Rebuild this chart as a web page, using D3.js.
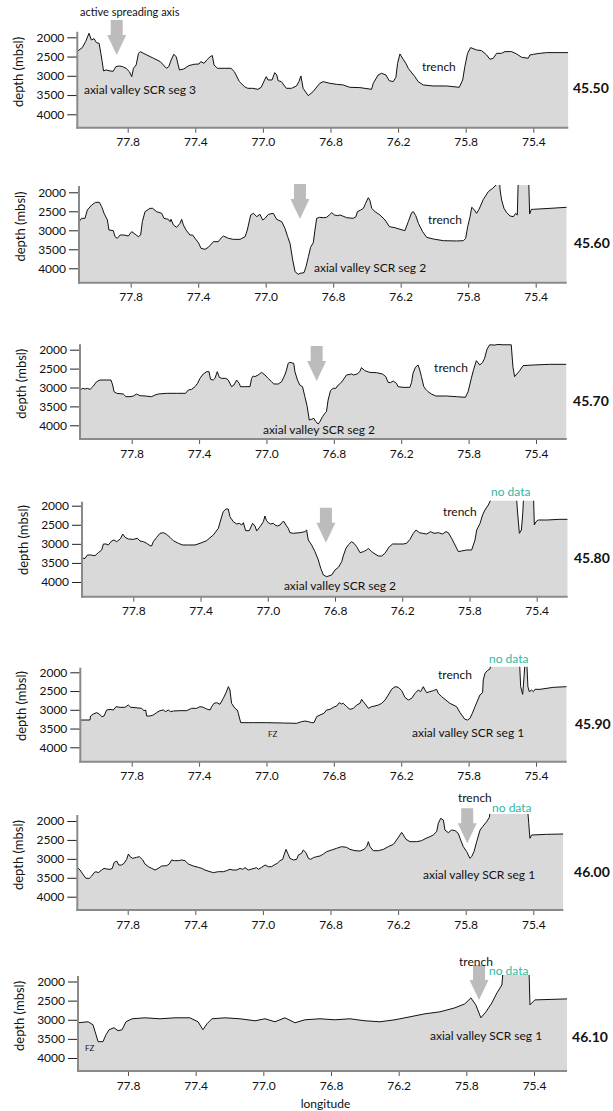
<!DOCTYPE html>
<html><head><meta charset="utf-8">
<script src="https://cdn.jsdelivr.net/npm/d3@7"></script>
<style>
body{margin:0;background:#fff}
svg{display:block}
text{font-family:Lato,"Open Sans",sans-serif;fill:#111}
</style>
</head><body>
<svg id="c" width="613" height="1111"></svg>
<script>
// ---------- tick values & labels ----------
const tickLon = [77.8, 77.4, 77.0, 76.6, 76.2, 75.8, 75.4];
const tickLabels = ["77.8", "77.4", "77.0", "76.8", "76.2", "75.8", "75.4"];
const depthTicks = [2000, 2500, 3000, 3500, 4000];
const latLabels = ["45.50", "45.60", "45.70", "45.80", "45.90", "46.00", "46.10"];

// ---------- profiles (longitude, depth in m below sea level; <1800 = above frame / no data) ----------
const lon4550 = [78.100,78.069,78.049,78.029,78.015,77.999,77.985,77.969,77.959,77.951,77.943,77.929,77.905,77.886,77.870,77.850,77.830,77.810,77.790,77.776,77.766,77.750,77.736,77.726,77.687,77.647,77.607,77.571,77.557,77.543,77.527,77.513,77.501,77.494,77.468,77.438,77.408,77.378,77.368,77.348,77.332,77.312,77.299,77.289,77.269,77.229,77.189,77.169,77.139,77.109,77.090,77.060,77.030,77.010,76.990,76.980,76.970,76.946,76.930,76.918,76.910,76.891,76.861,76.831,76.801,76.787,76.775,76.762,76.732,76.703,76.663,76.643,76.604,76.564,76.525,76.486,76.426,76.357,76.347,76.318,76.298,76.272,76.253,76.229,76.213,76.203,76.189,76.170,76.154,76.140,76.101,76.081,76.051,75.992,75.913,75.838,75.818,75.805,75.789,75.771,75.736,75.706,75.676,75.657,75.637,75.617,75.588,75.568,75.528,75.499,75.469,75.430,75.420,75.400,75.361,75.321,75.242,75.193];
const depth4550 = [2372,2268,2113,1896,2069,2035,2139,2156,2416,2632,2874,2848,2874,2883,2762,2745,2762,2805,2892,3022,2805,2719,2416,2372,2459,2545,2632,2805,2762,2589,2442,2502,2719,2848,2822,2736,2701,2693,2632,2675,2589,2502,2476,2719,2805,2805,2805,2892,3152,3281,3325,3325,3351,3299,3108,3022,3108,3108,2918,2978,3126,3152,3325,3325,3264,3152,3004,3325,3515,3411,3195,3152,3195,3221,3238,3299,3307,3351,3195,2978,2935,2978,3126,3152,3039,2675,2433,2571,2675,2805,3022,3152,3238,3264,3264,3299,3108,2762,2416,2268,2329,2346,2459,2571,2545,2416,2416,2372,2372,2433,2519,2545,2459,2442,2416,2398,2398,2398];

const lon4560 = [78.106,78.091,78.071,78.057,78.031,78.008,77.986,77.972,77.958,77.938,77.929,77.903,77.893,77.879,77.863,77.840,77.814,77.794,77.775,77.755,77.741,77.731,77.715,77.686,77.670,77.646,77.616,77.603,77.577,77.567,77.561,77.547,77.528,77.508,77.498,77.488,77.472,77.449,77.433,77.419,77.399,77.383,77.360,77.340,77.310,77.281,77.271,77.251,77.221,77.192,77.152,77.122,77.109,77.089,77.073,77.053,77.034,77.018,77.004,76.984,76.955,76.935,76.905,76.886,76.870,76.856,76.840,76.826,76.807,76.797,76.773,76.761,76.747,76.734,76.718,76.708,76.698,76.682,76.659,76.639,76.623,76.609,76.593,76.575,76.560,76.544,76.520,76.481,76.465,76.457,76.437,76.421,76.408,76.392,76.382,76.372,76.352,76.323,76.293,76.267,76.234,76.204,76.175,76.155,76.135,76.125,76.111,76.095,76.070,76.046,76.007,75.947,75.868,75.829,75.815,75.803,75.789,75.779,75.766,75.750,75.736,75.710,75.681,75.655,75.635,75.627,75.615,75.611,75.602,75.588,75.572,75.552,75.532,75.519,75.509,75.503,75.442,75.436,75.426,75.414,75.315,75.216];
const depth4560 = [2773,2685,2685,2466,2334,2264,2264,2378,2553,2729,2992,3010,3167,3211,3124,3124,3150,3036,3097,3167,3124,2773,2510,2422,2422,2510,2553,2685,2711,2773,2711,2860,2922,2817,2711,2860,2992,3124,3124,3211,3325,3475,3501,3448,3299,3299,3238,3150,3211,3238,3238,3167,2992,2597,2553,2641,2580,2729,2685,2580,2553,2711,2773,2948,3167,3343,3781,4088,4159,4132,4115,3957,3694,3448,3325,2992,2685,2659,2668,2659,2597,2536,2597,2615,2597,2624,2668,2685,2641,2510,2466,2422,2290,2141,2220,2422,2510,2597,2729,2904,2931,2974,3010,2773,2536,2510,2615,2817,3036,3185,3229,3273,3281,3273,3211,2904,2641,2395,2448,2553,2448,2185,1983,1895,1808,1600,1600,1939,2202,2422,2536,2624,2641,2553,2597,1600,1600,2571,2448,2448,2422,2395];

const lon4570 = [78.107,78.091,78.077,78.063,78.047,78.031,78.008,77.988,77.949,77.923,77.913,77.905,77.889,77.850,77.834,77.810,77.790,77.771,77.751,77.721,77.682,77.662,77.642,77.593,77.533,77.480,77.464,77.444,77.424,77.409,77.395,77.375,77.355,77.341,77.332,77.316,77.306,77.292,77.280,77.266,77.241,77.227,77.207,77.193,77.177,77.162,77.154,77.128,77.098,77.088,77.079,77.069,77.049,77.029,77.009,76.990,76.970,76.956,76.930,76.910,76.891,76.881,76.871,76.861,76.838,76.831,76.816,76.802,76.786,76.772,76.758,76.746,76.733,76.719,76.707,76.693,76.683,76.667,76.654,76.644,76.634,76.620,76.604,76.588,76.574,76.561,76.545,76.525,76.495,76.482,76.462,76.446,76.436,76.416,76.387,76.347,76.311,76.292,76.278,76.264,76.248,76.228,76.219,76.189,76.149,76.139,76.130,76.116,76.100,76.090,76.080,76.066,76.054,76.041,76.021,75.995,75.932,75.873,75.819,75.803,75.784,75.770,75.754,75.734,75.718,75.705,75.691,75.675,75.645,75.626,75.596,75.547,75.537,75.527,75.497,75.477,75.418,75.319,75.220];
const depth4570 = [3066,3022,3040,3022,3049,2978,2846,2802,2802,2802,2934,3110,3154,3172,3243,3243,3225,3172,3216,3225,3243,3199,3172,3154,3154,3154,3066,3049,2978,2890,2758,2643,2581,2581,2784,2802,2758,2581,2731,2758,2758,2802,2978,2934,2802,2890,2978,2978,2978,2758,2696,2713,2669,2599,2669,2758,2846,2907,2907,2846,2669,2537,2361,2334,2361,2581,2802,2934,2978,3243,3507,3860,3842,3816,3904,3966,3904,3772,3684,3640,3331,3084,3022,3022,2934,2890,2802,2669,2643,2669,2643,2581,2475,2555,2599,2608,2643,2713,2863,2872,2828,2890,2978,2996,2996,2872,2625,2466,2405,2537,2713,2978,3049,3110,3172,3225,3225,3243,3260,3110,2758,2519,2290,2405,2343,2228,1990,1870,1878,1862,1870,1870,2449,2713,2555,2422,2405,2387,2387];

const lon4580 = [78.105,78.087,78.073,78.054,78.028,78.008,77.988,77.978,77.962,77.949,77.929,77.915,77.899,77.885,77.875,77.863,77.849,77.829,77.800,77.776,77.760,77.740,77.720,77.701,77.691,77.681,77.661,77.641,77.621,77.602,77.582,77.562,77.532,77.506,77.473,77.433,77.403,77.364,77.324,77.294,77.280,77.265,77.249,77.235,77.225,77.205,77.185,77.169,77.155,77.145,77.132,77.110,77.090,77.076,77.066,77.046,77.026,77.017,77.007,76.997,76.983,76.967,76.957,76.943,76.927,76.911,76.903,76.892,76.878,76.868,76.848,76.808,76.779,76.769,76.759,76.739,76.719,76.699,76.685,76.669,76.650,76.620,76.600,76.580,76.560,76.551,76.535,76.521,76.501,76.487,76.471,76.451,76.431,76.412,76.402,76.382,76.362,76.342,76.322,76.303,76.277,76.257,76.223,76.194,76.174,76.154,76.134,76.118,76.098,76.079,76.055,76.031,76.011,75.985,75.960,75.940,75.926,75.906,75.886,75.866,75.847,75.817,75.787,75.777,75.767,75.757,75.737,75.722,75.708,75.688,75.674,75.668,75.523,75.515,75.503,75.491,75.483,75.476,75.420,75.414,75.404,75.390,75.341,75.262,75.216];
const depth4580 = [3380,3380,3292,3292,3310,3231,3161,3004,3004,3030,2925,2899,2943,2899,2855,2742,2829,2873,2882,2855,2925,2943,2986,3048,3056,2943,2829,2724,2707,2751,2829,2917,2986,3030,3030,3030,2986,2917,2768,2593,2375,2156,2087,2087,2287,2419,2480,2462,2506,2445,2654,2654,2462,2532,2663,2550,2419,2270,2392,2445,2480,2462,2506,2532,2506,2419,2419,2506,2593,2707,2724,2707,2681,2637,2899,3030,3205,3423,3642,3817,3860,3817,3685,3616,3467,3318,3117,3030,2943,2986,3074,3231,3205,3161,3117,3205,3266,3319,3319,3249,3074,3004,3004,3004,2986,2882,2724,2637,2707,2724,2742,2681,2724,2707,2742,2681,2707,2855,3030,3205,3187,3161,3161,3030,2899,2637,2462,2244,2113,1982,1851,1600,1600,2113,2724,2637,2200,1600,1600,2506,2419,2375,2375,2357,2357];

const lon4590 = [78.105,78.077,78.048,78.044,78.028,78.008,77.992,77.978,77.964,77.949,77.929,77.909,77.893,77.870,77.840,77.820,77.806,77.780,77.741,77.727,77.717,77.711,77.691,77.672,77.652,77.632,77.612,77.598,77.583,77.569,77.553,77.513,77.474,77.444,77.414,77.395,77.375,77.355,77.335,77.325,77.312,77.296,77.276,77.256,77.240,77.226,77.217,77.207,77.187,77.173,77.167,77.157,77.153,77.078,76.999,76.900,76.821,76.791,76.771,76.752,76.732,76.718,76.702,76.682,76.659,76.643,76.623,76.603,76.583,76.568,76.554,76.544,76.524,76.504,76.484,76.465,76.445,76.435,76.425,76.409,76.395,76.376,76.356,76.336,76.316,76.296,76.277,76.257,76.237,76.217,76.197,76.178,76.158,76.138,76.118,76.099,76.085,76.069,76.059,76.049,76.029,76.010,75.990,75.980,75.960,75.940,75.911,75.871,75.851,75.841,75.822,75.806,75.792,75.778,75.762,75.733,75.717,75.713,75.703,75.689,75.673,75.663,75.499,75.491,75.479,75.471,75.463,75.456,75.448,75.440,75.426,75.416,75.406,75.376,75.297,75.218];
const depth4590 = [3272,3272,3272,3165,3112,3076,3112,3183,3165,3005,2988,3005,2916,2934,2934,2872,2934,2943,2961,3023,3005,3165,3165,3139,3076,3023,3005,3050,3005,3050,3032,3023,3023,2961,2961,2916,2934,2979,3005,2916,2828,2810,2854,2694,2543,2383,2472,2828,2961,3005,3094,3272,3343,3343,3343,3352,3361,3316,3300,3316,3343,3343,3183,3139,3094,3005,2988,2934,2899,2810,2845,2828,2916,2988,2961,2872,2828,2721,2783,2872,2961,2916,2899,2872,2828,2739,2605,2454,2383,2401,2490,2668,2739,2694,2561,2472,2516,2383,2472,2543,2516,2490,2454,2561,2650,2721,2828,2916,3076,3139,3254,3272,3227,3094,2916,2605,2543,2205,2028,1956,1912,1600,1600,2383,2588,2116,1600,1600,2383,2516,2472,2516,2454,2454,2401,2383];

const lon4600 = [78.098,78.082,78.062,78.047,78.027,78.013,77.999,77.988,77.974,77.954,77.940,77.924,77.905,77.891,77.881,77.865,77.853,77.836,77.822,77.806,77.796,77.786,77.771,77.747,77.731,77.711,77.698,77.678,77.658,77.638,77.619,77.599,77.569,77.554,77.540,77.524,77.500,77.481,77.461,77.441,77.412,77.382,77.362,77.343,77.313,77.293,77.264,77.234,77.214,77.195,77.175,77.155,77.135,77.120,77.106,77.086,77.066,77.051,77.037,77.027,77.007,76.987,76.968,76.948,76.934,76.915,76.899,76.883,76.875,76.863,76.853,76.840,76.820,76.800,76.790,76.771,76.761,76.745,76.731,76.717,76.702,76.682,76.662,76.642,76.623,76.593,76.564,76.534,76.504,76.485,76.455,76.425,76.402,76.386,76.376,76.366,76.347,76.317,76.287,76.258,76.228,76.209,76.189,76.179,76.169,76.153,76.130,76.090,76.061,76.035,76.011,75.992,75.972,75.962,75.948,75.932,75.923,75.903,75.883,75.863,75.844,75.830,75.814,75.794,75.775,75.765,75.751,75.735,75.715,75.700,75.676,75.660,75.652,75.435,75.427,75.420,75.410,75.321,75.222];
const depth4600 = [3224,3295,3427,3515,3515,3453,3365,3339,3365,3295,3251,3268,3277,3251,3101,3057,3163,3163,3119,3013,2872,2942,2986,2960,2942,3030,3136,3207,3251,3295,3251,3189,3180,3136,3030,3048,3048,3030,3048,3136,3189,3224,3251,3295,3339,3365,3339,3339,3312,3277,3295,3295,3251,3277,3233,3295,3268,3251,3233,3277,3224,3163,3207,3207,3163,3119,3048,3013,2898,2749,2854,2986,3030,3013,2898,2854,2766,2837,2986,3013,2969,2942,2925,2872,2810,2766,2722,2678,2696,2749,2784,2793,2749,2678,2546,2678,2784,2784,2749,2678,2617,2502,2370,2300,2370,2484,2546,2546,2520,2458,2414,2370,2282,2062,1930,1974,2238,2308,2238,2255,2326,2502,2678,2810,2986,2942,2810,2546,2238,2150,2018,1903,1600,1600,2062,2458,2370,2352,2344];

const lon4610 = [78.096,78.036,78.007,77.989,77.977,77.948,77.930,77.912,77.883,77.859,77.835,77.812,77.776,77.700,77.611,77.522,77.434,77.386,77.357,77.333,77.304,77.227,77.138,77.049,76.990,76.931,76.872,76.813,76.754,76.665,76.577,76.488,76.399,76.311,76.222,76.133,76.045,75.956,75.868,75.809,75.773,75.744,75.714,75.684,75.649,75.619,75.590,75.580,75.430,75.424,75.395,75.205];
const depth4610 = [3079,3053,3131,3391,3573,3573,3391,3261,3209,3287,3261,3053,2975,2949,2975,2949,2949,3053,3261,3105,2975,2949,2975,3027,2975,3053,2949,3079,3001,2975,3001,2975,3027,3053,3001,2923,2845,2793,2689,2585,2429,2611,2949,2793,2559,2299,2091,1600,1600,2611,2481,2455];

// ---------- arrows (longitude, depth of the tip) and annotations ----------
const arrowLon = [77.865, 76.797, 76.702, 76.654, null, 75.791, 75.725];
const arrowTip = [2460, 2703, 2828, 2970, null, 2589, 2481];

const notes = [
  [{t:"active spreading axis", lon:78.082, d:1447, k:"small"},
   {t:"axial valley SCR seg 3", lon:78.059, d:3472, k:"ann"},
   {t:"trench", lon:76.059, d:2875, k:"ann"}],
  [{t:"trench", lon:76.038, d:2834, k:"ann"},
   {t:"axial valley SCR seg 2", lon:76.714, d:4098, k:"ann"}],
  [{t:"trench", lon:76.005, d:2590, k:"ann"},
   {t:"axial valley SCR seg 2", lon:77.021, d:4231, k:"ann"}],
  [{t:"trench", lon:75.958, d:2270, k:"ann"},
   {t:"axial valley SCR seg 2", lon:76.904, d:4210, k:"ann"},
   {t:"no data", lon:75.672, d:1746, k:"nd"}],
  [{t:"trench", lon:75.982, d:2179, k:"ann"},
   {t:"axial valley SCR seg 1", lon:76.136, d:3726, k:"ann"},
   {t:"FZ", lon:76.991, d:3726, k:"fz"},
   {t:"no data", lon:75.679, d:1752, k:"nd"}],
  [{t:"trench", lon:75.846, d:1498, k:"ann"},
   {t:"axial valley SCR seg 1", lon:76.053, d:3532, k:"ann"},
   {t:"no data", lon:75.644, d:1762, k:"nd"}],
  [{t:"trench", lon:75.843, d:1597, k:"ann"},
   {t:"axial valley SCR seg 1", lon:76.015, d:3521, k:"ann"},
   {t:"FZ", lon:78.054, d:3807, k:"fz"},
   {t:"no data", lon:75.666, d:1831, k:"nd"}]
];
const latPos = [[75.165,3447],[75.173,3466],[75.180,3490],[75.178,3502],[75.169,3512],[75.159,3480],[75.175,3573]];

const profiles = [[lon4550,depth4550],[lon4560,depth4560],[lon4570,depth4570],[lon4580,depth4580],[lon4590,depth4590],[lon4600,depth4600],[lon4610,depth4610]];

// ---------- layout (pixels) ----------
const layout = [
  {x0:127.7,x1:533.3,y0:37.3, y1:114.3,left:77.3,right:568.3,top:31.8, bottom:127.7},
  {x0:130.7,x1:535.7,y0:192.3,y1:268.3,left:79,  right:566.7,top:186,  bottom:282.7},
  {x0:131.7,x1:536,  y0:349.7,y1:425.3,left:80,  right:566.7,top:344.3,bottom:439},
  {x0:133.3,x1:536.7,y0:505.7,y1:582,  left:82,  right:567.7,top:501.7,bottom:596.7},
  {x0:131.7,x1:536,  y0:672.3,y1:747.3,left:80.3,right:566.7,top:667.7,bottom:761.7},
  {x0:127.7,x1:533.3,y0:821,  y1:896.7,left:77.3,right:563.3,top:815,  bottom:910},
  {x0:128,  x1:534,  y0:981.5,y1:1058, left:78,  right:567,  top:976,  bottom:1071}
];

const svg = d3.select("#c");
const fontSize = {ann:12, small:11, nd:12, fz:8};

layout.forEach((L, p) => {
  const x = d3.scaleLinear().domain([77.8, 75.4]).range([L.x0, L.x1]);
  const y = d3.scaleLinear().domain([2000, 4000]).range([L.y0, L.y1]);
  const [lons, deps] = profiles[p];
  const idx = d3.range(lons.length);
  const g = svg.append("g");

  const cid = "clip" + p;
  svg.append("clipPath").attr("id", cid).append("rect")
    .attr("x", L.left).attr("y", L.top - 1)
    .attr("width", L.right - L.left).attr("height", L.bottom - L.top + 1);

  const pg = g.append("g").attr("clip-path", `url(#${cid})`);
  pg.append("path").datum(idx)
    .attr("d", d3.area().x(i => x(lons[i])).y0(L.bottom).y1(i => y(deps[i])))
    .attr("fill", "#d9d9d9");
  pg.append("path").datum(idx)
    .attr("d", d3.line().x(i => x(lons[i])).y(i => y(deps[i])))
    .attr("fill", "none").attr("stroke", "#111").attr("stroke-width", 1)
    .attr("stroke-linejoin", "round");

  // arrow
  if (arrowLon[p] != null) {
    const tx = x(arrowLon[p]), ty = y(arrowTip[p]);
    g.append("path")
      .attr("d", `M${tx-6},${ty-35}L${tx+6},${ty-35}L${tx+6},${ty-20}L${tx+9.5},${ty-20}L${tx},${ty}L${tx-9.5},${ty-20}L${tx-6},${ty-20}Z`)
      .attr("fill", "#bcbcbc");
  }

  // y axis
  const ya = g.append("g").attr("transform", `translate(${L.left},0)`)
    .call(d3.axisLeft(y).tickValues(depthTicks).tickSize(10).tickPadding(3).tickFormat(d3.format("d")));
  ya.select(".domain").remove();
  ya.selectAll(".tick line").attr("stroke", "#222");
  ya.selectAll("text").attr("font-size", 12).attr("fill", "#111").style("font-family", "Lato");
  g.append("line").attr("x1", L.left).attr("x2", L.left).attr("y1", L.top).attr("y2", L.bottom + 1)
    .attr("stroke", "#8a8a8a").attr("stroke-width", 2);

  // x axis
  const xa = g.append("g").attr("transform", `translate(0,${L.bottom})`)
    .call(d3.axisBottom(x).tickValues(tickLon).tickSize(5).tickPadding(5).tickFormat((d, i) => tickLabels[i]));
  xa.select(".domain").remove();
  xa.selectAll(".tick line").attr("stroke", "#555");
  xa.selectAll("text").attr("font-size", 12).attr("fill", "#111").style("font-family", "Lato");
  g.append("line").attr("x1", L.left - 1).attr("x2", L.right).attr("y1", L.bottom).attr("y2", L.bottom)
    .attr("stroke", "#8a8a8a").attr("stroke-width", 2);

  // y title
  g.append("text").attr("transform", `translate(${L.left - 58.5},${y(2900)}) rotate(-90)`)
    .attr("text-anchor", "middle").attr("dy", "0.35em").attr("font-size", 13)
    .text("depth (mbsl)");

  // latitude label
  g.append("text").attr("x", x(latPos[p][0])).attr("y", y(latPos[p][1]))
    .attr("font-size", 14).attr("font-weight", "bold").text(latLabels[p]);

  // annotations
  notes[p].forEach(n => {
    g.append("text").attr("x", x(n.lon)).attr("y", y(n.d))
      .attr("font-size", fontSize[n.k])
      .style("fill", n.k === "nd" ? "#2fb8a3" : "#111")
      .text(n.t);
  });

  if (p === layout.length - 1) {
    g.append("text").attr("x", (L.left + L.right) / 2 + 3).attr("y", L.bottom + 37)
      .attr("text-anchor", "middle").attr("font-size", 12).text("longitude");
  }
});
</script>
</body></html>
